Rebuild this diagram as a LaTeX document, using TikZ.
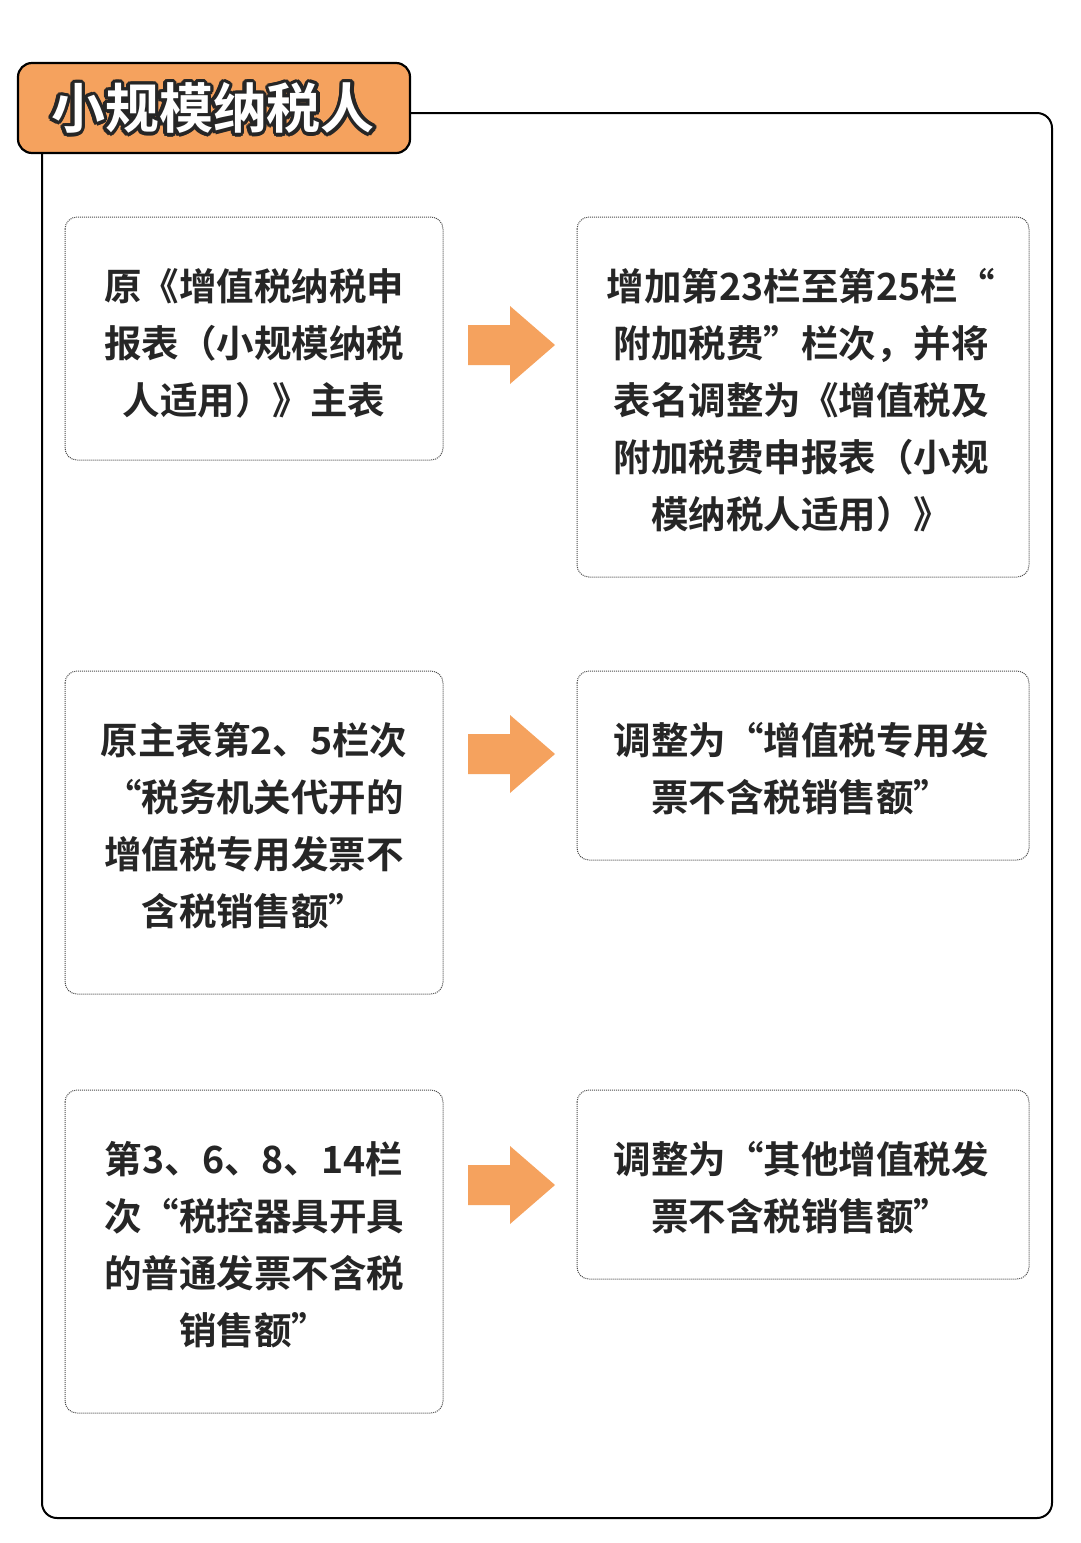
\documentclass[tikz,border=0pt]{standalone}
\usepackage{fontspec}
\usetikzlibrary{calc}
\setmainfont{Noto Sans CJK SC}[BoldFont={Noto Sans CJK SC Bold}]
\definecolor{org}{HTML}{F5A25E}
\definecolor{txt}{HTML}{262626}
\begin{document}
\begin{tikzpicture}[x=1pt,y=-1pt,
  box/.style={draw=black!70,densely dotted,line width=1pt,rounded corners=12pt},
  body/.style={text=txt,font=\bfseries\fontsize{37.5}{57}\selectfont,align=center},
  garrow/.style={fill=org,draw=none}]
\useasboundingbox[fill=white] (0,0) rectangle (1080,1543);
\draw[line width=2pt,rounded corners=15pt] (42,113) rectangle (1052,1518);
\draw[fill=org,line width=2.2pt,rounded corners=14pt] (18,63) rectangle (410,153);
\foreach \a in {0,22.5,...,337.5}
  \node[text=black!85,font=\bfseries\fontsize{54}{54}\selectfont] at ($(213,108)+(\a:3.5pt)$) {小规模纳税人};
\node (title) [text=white,font=\bfseries\fontsize{54}{54}\selectfont] at (213,108) {小规模纳税人};
% boxes
\draw[box] (65,217) rectangle (443,460);
\draw[box] (577,217) rectangle (1029,577);
\draw[box] (65,671) rectangle (443,994);
\draw[box] (577,671) rectangle (1029,860);
\draw[box] (65,1090) rectangle (443,1413);
\draw[box] (577,1090) rectangle (1029,1279);
\node (l1) [body] at (254,343) {原《增值税纳税申\\报表（小规模纳税\\人适用）》主表};
\node (r1) [body] at (801,400) {增加第23栏至第25栏“\\附加税费”栏次，并将\\表名调整为《增值税及\\附加税费申报表（小规\\模纳税人适用）》};
\node (l2) [body] at (254,826) {原主表第2、5栏次\\“税务机关代开的\\增值税专用发票不\\含税销售额”};
\node (r2) [body] at (801,769) {调整为“增值税专用发\\票不含税销售额”};
\node (l3) [body] at (254,1245) {第3、6、8、14栏\\次“税控器具开具\\的普通发票不含税\\销售额”};
\node (r3) [body] at (801,1188) {调整为“其他增值税发\\票不含税销售额”};
\foreach \y in {345,754,1185}
  \fill[garrow] (468,\y-20) -- (510,\y-20) -- (510,\y-39) -- (555,\y) -- (510,\y+39) -- (510,\y+20) -- (468,\y+20) -- cycle;
\end{tikzpicture}
\end{document}
